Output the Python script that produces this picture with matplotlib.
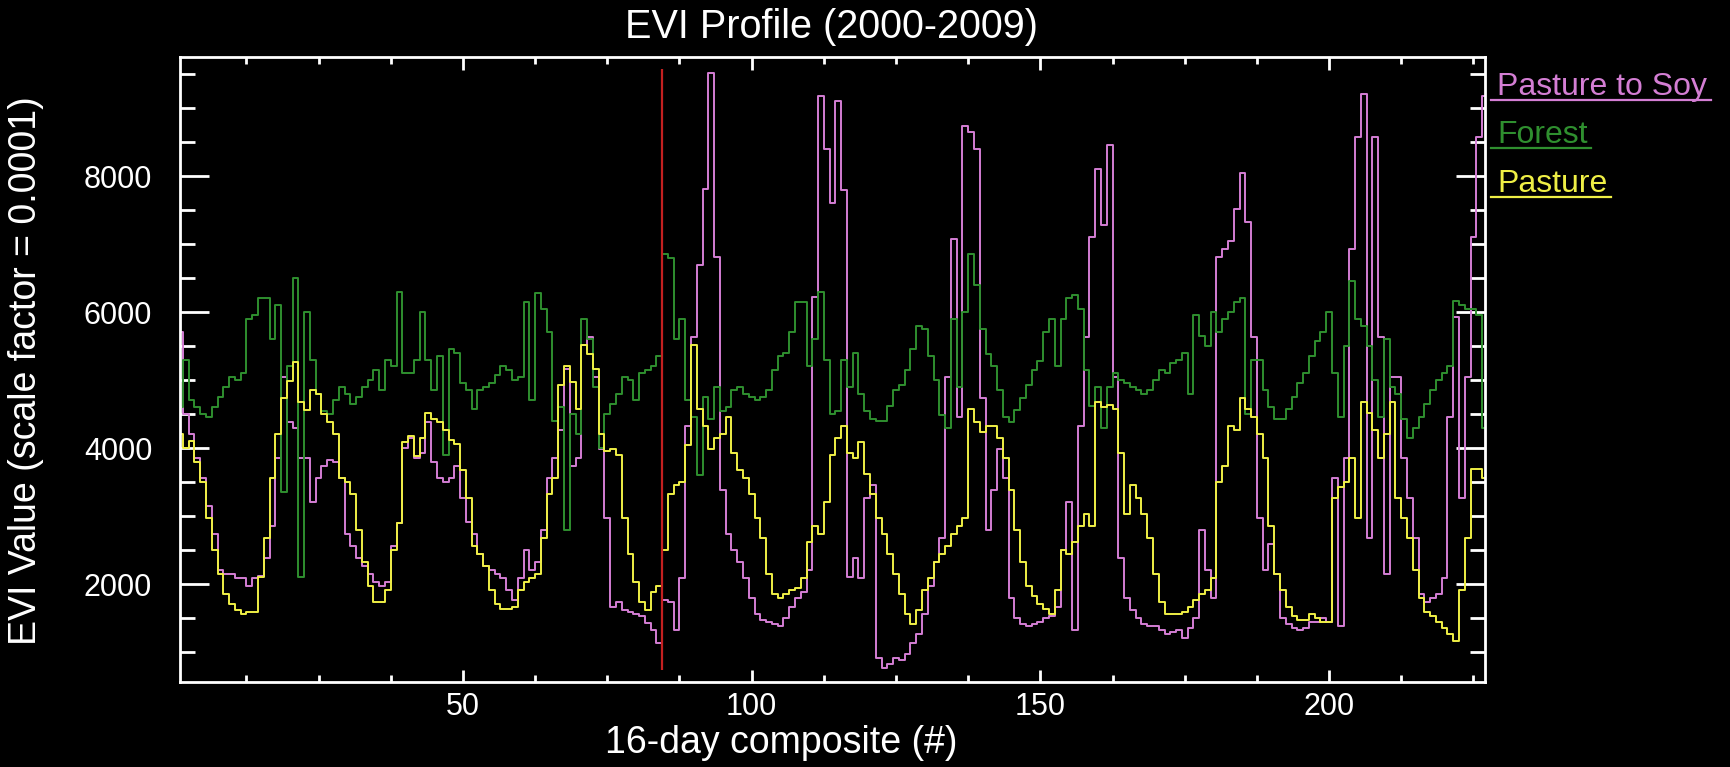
import numpy as np
import matplotlib
matplotlib.use("Agg")
import matplotlib.pyplot as plt
from matplotlib.lines import Line2D
from matplotlib.ticker import MultipleLocator

# EVI values, one per 16-day composite (1..227)
composite = np.arange(1, 228)

pasture_to_soy = [
    5700, 4500, 4200, 3860, 3560, 3150, 2740, 2200, 2150, 2150,
    2090, 2090, 1970, 2090, 2120, 2380, 2850, 3860, 5040, 4390,
    4300, 3860, 3860, 3200, 3560, 3740, 3830, 3800, 3560, 2740,
    2560, 2380, 2260, 2150, 2030, 1970, 2030, 2560, 2900, 4000,
    4150, 3860, 3920, 4390, 3800, 3560, 3500, 3560, 3740, 3270,
    2910, 2740, 2440, 2270, 2200, 2150, 2090, 1910, 1760, 2090,
    2500, 2200, 2320, 2800, 3560, 3860, 4270, 5160, 3740, 3860,
    5510, 5630, 5040, 3980, 2970, 1670, 1730, 1620, 1590, 1560,
    1530, 1430, 1320, 1140, 1760, 1730, 1320, 2090, 4330, 5630,
    6690, 7810, 9520, 6810, 3390, 2740, 2500, 2320, 2090, 1790,
    1560, 1470, 1440, 1410, 1380, 1500, 1670, 1790, 1880, 2200,
    6220, 9170, 8400, 7600, 9100, 7800, 2100, 2380, 2090, 3270,
    3450, 910, 760, 820, 910, 880, 970, 1140, 1260, 1560,
    1970, 2320, 2680, 5040, 7070, 4450, 8730, 8640, 8400, 4740,
    2800, 3390, 3980, 3560, 1790, 1500, 1410, 1380, 1410, 1440,
    1500, 1530, 1670, 2500, 3200, 1320, 4330, 5630, 7100, 8100,
    7280, 8460, 5040, 2380, 1790, 1620, 1500, 1410, 1380, 1380,
    1320, 1260, 1290, 1320, 1200, 1350, 1500, 2800, 2200, 1790,
    6810, 6930, 7050, 7520, 8050, 7330, 5630, 2970, 2200, 2590,
    2150, 1500, 1410, 1350, 1320, 1350, 1440, 1440, 1500, 1440,
    3560, 1380, 3860, 6930, 8580, 9200, 2680, 8580, 5630, 2150,
    5040, 5040, 3860, 3270, 2680, 1850, 1730, 1790, 1850, 2090,
    4450, 5920, 3270, 5040, 7100, 8580, 9170,
]

forest = [
    4600, 5300, 4700, 4600, 4500, 4450, 4600, 4750, 4900, 5050,
    5000, 5100, 5900, 5950, 6200, 6200, 5600, 6100, 3350, 5200,
    6500, 2100, 6000, 5300, 4800, 4550, 4500, 4700, 4900, 4800,
    4650, 4750, 4900, 5000, 5150, 4850, 5300, 5200, 6300, 5100,
    5100, 5300, 6000, 5300, 4850, 5350, 3900, 5450, 5400, 4950,
    4850, 4570, 4850, 4900, 4950, 5080, 5200, 5150, 5000, 5050,
    6150, 4700, 6280, 6050, 5700, 4400, 4600, 2800, 4500, 4200,
    5900, 5600, 4900, 4000, 4500, 4650, 4800, 5050, 5000, 4700,
    5100, 5150, 5200, 5350, 6850, 6800, 5600, 5900, 4700, 4450,
    3600, 4750, 4420, 4900, 4550, 4600, 4850, 4900, 4800, 4750,
    4700, 4750, 4850, 5150, 5350, 5400, 5700, 6150, 6150, 5200,
    5600, 6300, 5300, 4500, 4540, 5300, 4900, 5400, 4800, 4550,
    4420, 4400, 4400, 4620, 4860, 4920, 5150, 5450, 5800, 5750,
    5350, 5000, 4480, 4300, 5900, 4900, 6000, 6850, 6400, 5750,
    5380, 5200, 4850, 4450, 4380, 4560, 4740, 4920, 5150, 5280,
    5700, 5900, 5200, 5900, 6200, 6250, 6050, 5150, 4620, 4900,
    4300, 4900, 5100, 5000, 4950, 4900, 4850, 4800, 4850, 5000,
    5150, 5100, 5250, 5300, 5400, 4800, 5950, 5650, 5500, 6000,
    5700, 5900, 6000, 6150, 6200, 4500, 5300, 5300, 4850, 4600,
    4420, 4420, 4570, 4750, 4950, 5100, 5350, 5580, 5700, 6000,
    5100, 4450, 5500, 6450, 5900, 5800, 5500, 5000, 4450, 5600,
    4900, 4800, 4420, 4150, 4300, 4450, 4650, 4850, 5000, 5100,
    5200, 6160, 6100, 6050, 6050, 5950, 4300,
]

pasture = [
    4200, 4000, 4100, 3800, 3500, 2970, 2500, 2150, 1850, 1700,
    1620, 1560, 1590, 1590, 2100, 2680, 3560, 4210, 4740, 4980,
    5270, 4680, 4560, 4860, 4800, 4500, 4390, 4210, 3560, 3500,
    3330, 2800, 2320, 1970, 1730, 1730, 1910, 2500, 2900, 4090,
    4180, 3890, 4150, 4510, 4420, 4390, 4270, 4120, 4060, 3680,
    3270, 2560, 2440, 2270, 1910, 1700, 1640, 1640, 1670, 1910,
    2030, 2090, 2150, 2680, 3330, 3560, 4920, 5210, 4970, 4570,
    5510, 5390, 5160, 4210, 3950, 3980, 3900, 2970, 2440, 2030,
    1730, 1620, 1880, 1970, 2500, 3330, 3450, 3500, 4040, 5510,
    4570, 4330, 3980, 4150, 4210, 4450, 3920, 3680, 3560, 3330,
    2970, 2680, 2150, 1850, 1790, 1850, 1910, 1940, 2090, 2620,
    2850, 2740, 3200, 3900, 4150, 4330, 3920, 3860, 4090, 3620,
    3330, 2970, 2740, 2440, 2150, 1850, 1560, 1410, 1620, 1910,
    2090, 2320, 2440, 2560, 2740, 2850, 2970, 4570, 4390, 4240,
    4330, 4330, 4150, 3860, 3390, 2800, 2320, 1970, 1820, 1700,
    1640, 1560, 1910, 2500, 2440, 2620, 2850, 3030, 2850, 4680,
    4600, 4630, 4570, 3920, 3030, 3450, 3270, 3030, 2680, 2150,
    1730, 1560, 1560, 1560, 1590, 1670, 1760, 1850, 1910, 2090,
    3500, 3740, 4330, 4270, 4740, 4570, 4450, 4210, 3850, 2850,
    2150, 1910, 1670, 1530, 1470, 1470, 1560, 1500, 1440, 1440,
    3270, 3420, 3500, 3860, 2970, 4680, 4510, 4270, 3860, 4210,
    4680, 3270, 2970, 2680, 2200, 1790, 1590, 1530, 1440, 1350,
    1260, 1170, 1910, 2680, 3690, 3690, 3560,
]

conversion_composite = 84.4  # red marker line

series_names = ["Pasture to Soy", "Forest", "Pasture"]
series_colors = ["#D47ED4", "#2F8F2F", "#EFEF45"]

plt.rcParams['font.family'] = ['Liberation Sans', 'DejaVu Sans']

W, H = 1731, 767
fig = plt.figure(figsize=(W / 100, H / 100), dpi=100, facecolor='black')
ax = fig.add_axes([180 / W, (H - 682) / H, 1305 / W, 625 / H])
ax.set_facecolor('black')

for vals, col in zip([pasture_to_soy, forest, pasture], series_colors):
    ax.plot(composite, vals, drawstyle='steps-mid', color=col, lw=1.4)
ax.vlines(conversion_composite, min(pasture_to_soy) - 30, max(pasture_to_soy) + 60,
          color='#C42020', lw=1.6)

ax.set_xlim(1, 227)
ax.set_ylim(560, 9750)
ax.xaxis.set_major_locator(MultipleLocator(50))
ax.xaxis.set_minor_locator(MultipleLocator(12.5))
ax.yaxis.set_major_locator(MultipleLocator(2000))
ax.yaxis.set_minor_locator(MultipleLocator(500))

for s in ax.spines.values():
    s.set_color('white')
    s.set_linewidth(2)
ax.tick_params(which='both', direction='in', colors='white', top=True, right=True, width=2)
ax.tick_params(axis='x', which='major', length=9, labelsize=22, pad=7)
ax.tick_params(axis='x', which='minor', length=5)
ax.tick_params(axis='y', which='major', length=21, labelsize=22, pad=20)
ax.tick_params(axis='y', which='minor', length=11)

fig.text(832 / W, 1 - 27 / H, "EVI Profile (2000-2009)", color='white', fontsize=28.5,
         ha='center', va='center')
fig.text(781 / W, 1 - 753 / H, "16-day composite (#)", color='white', fontsize=27,
         ha='center', va='baseline')
fig.text(26 / W, 1 - 371 / H, "EVI Value (scale factor = 0.0001)", color='white',
         fontsize=27, rotation=90, ha='center', va='center')

# legend: coloured labels with underlines to the right of the plot
fig.canvas.draw()
renderer = fig.canvas.get_renderer()
for name, col, yb in zip(series_names, series_colors, [95, 143, 192]):
    t = fig.text(1497 / W, 1 - yb / H, name, color=col, fontsize=23,
                 ha='left', va='baseline')
    bb = t.get_window_extent(renderer=renderer)
    yl = 1 - (yb + 5) / H
    fig.add_artist(Line2D([1491 / W, (bb.x1 + 4) / W], [yl, yl], color=col, lw=1.6,
                          transform=fig.transFigure))

fig.savefig('out.png', dpi=100, facecolor='black')
